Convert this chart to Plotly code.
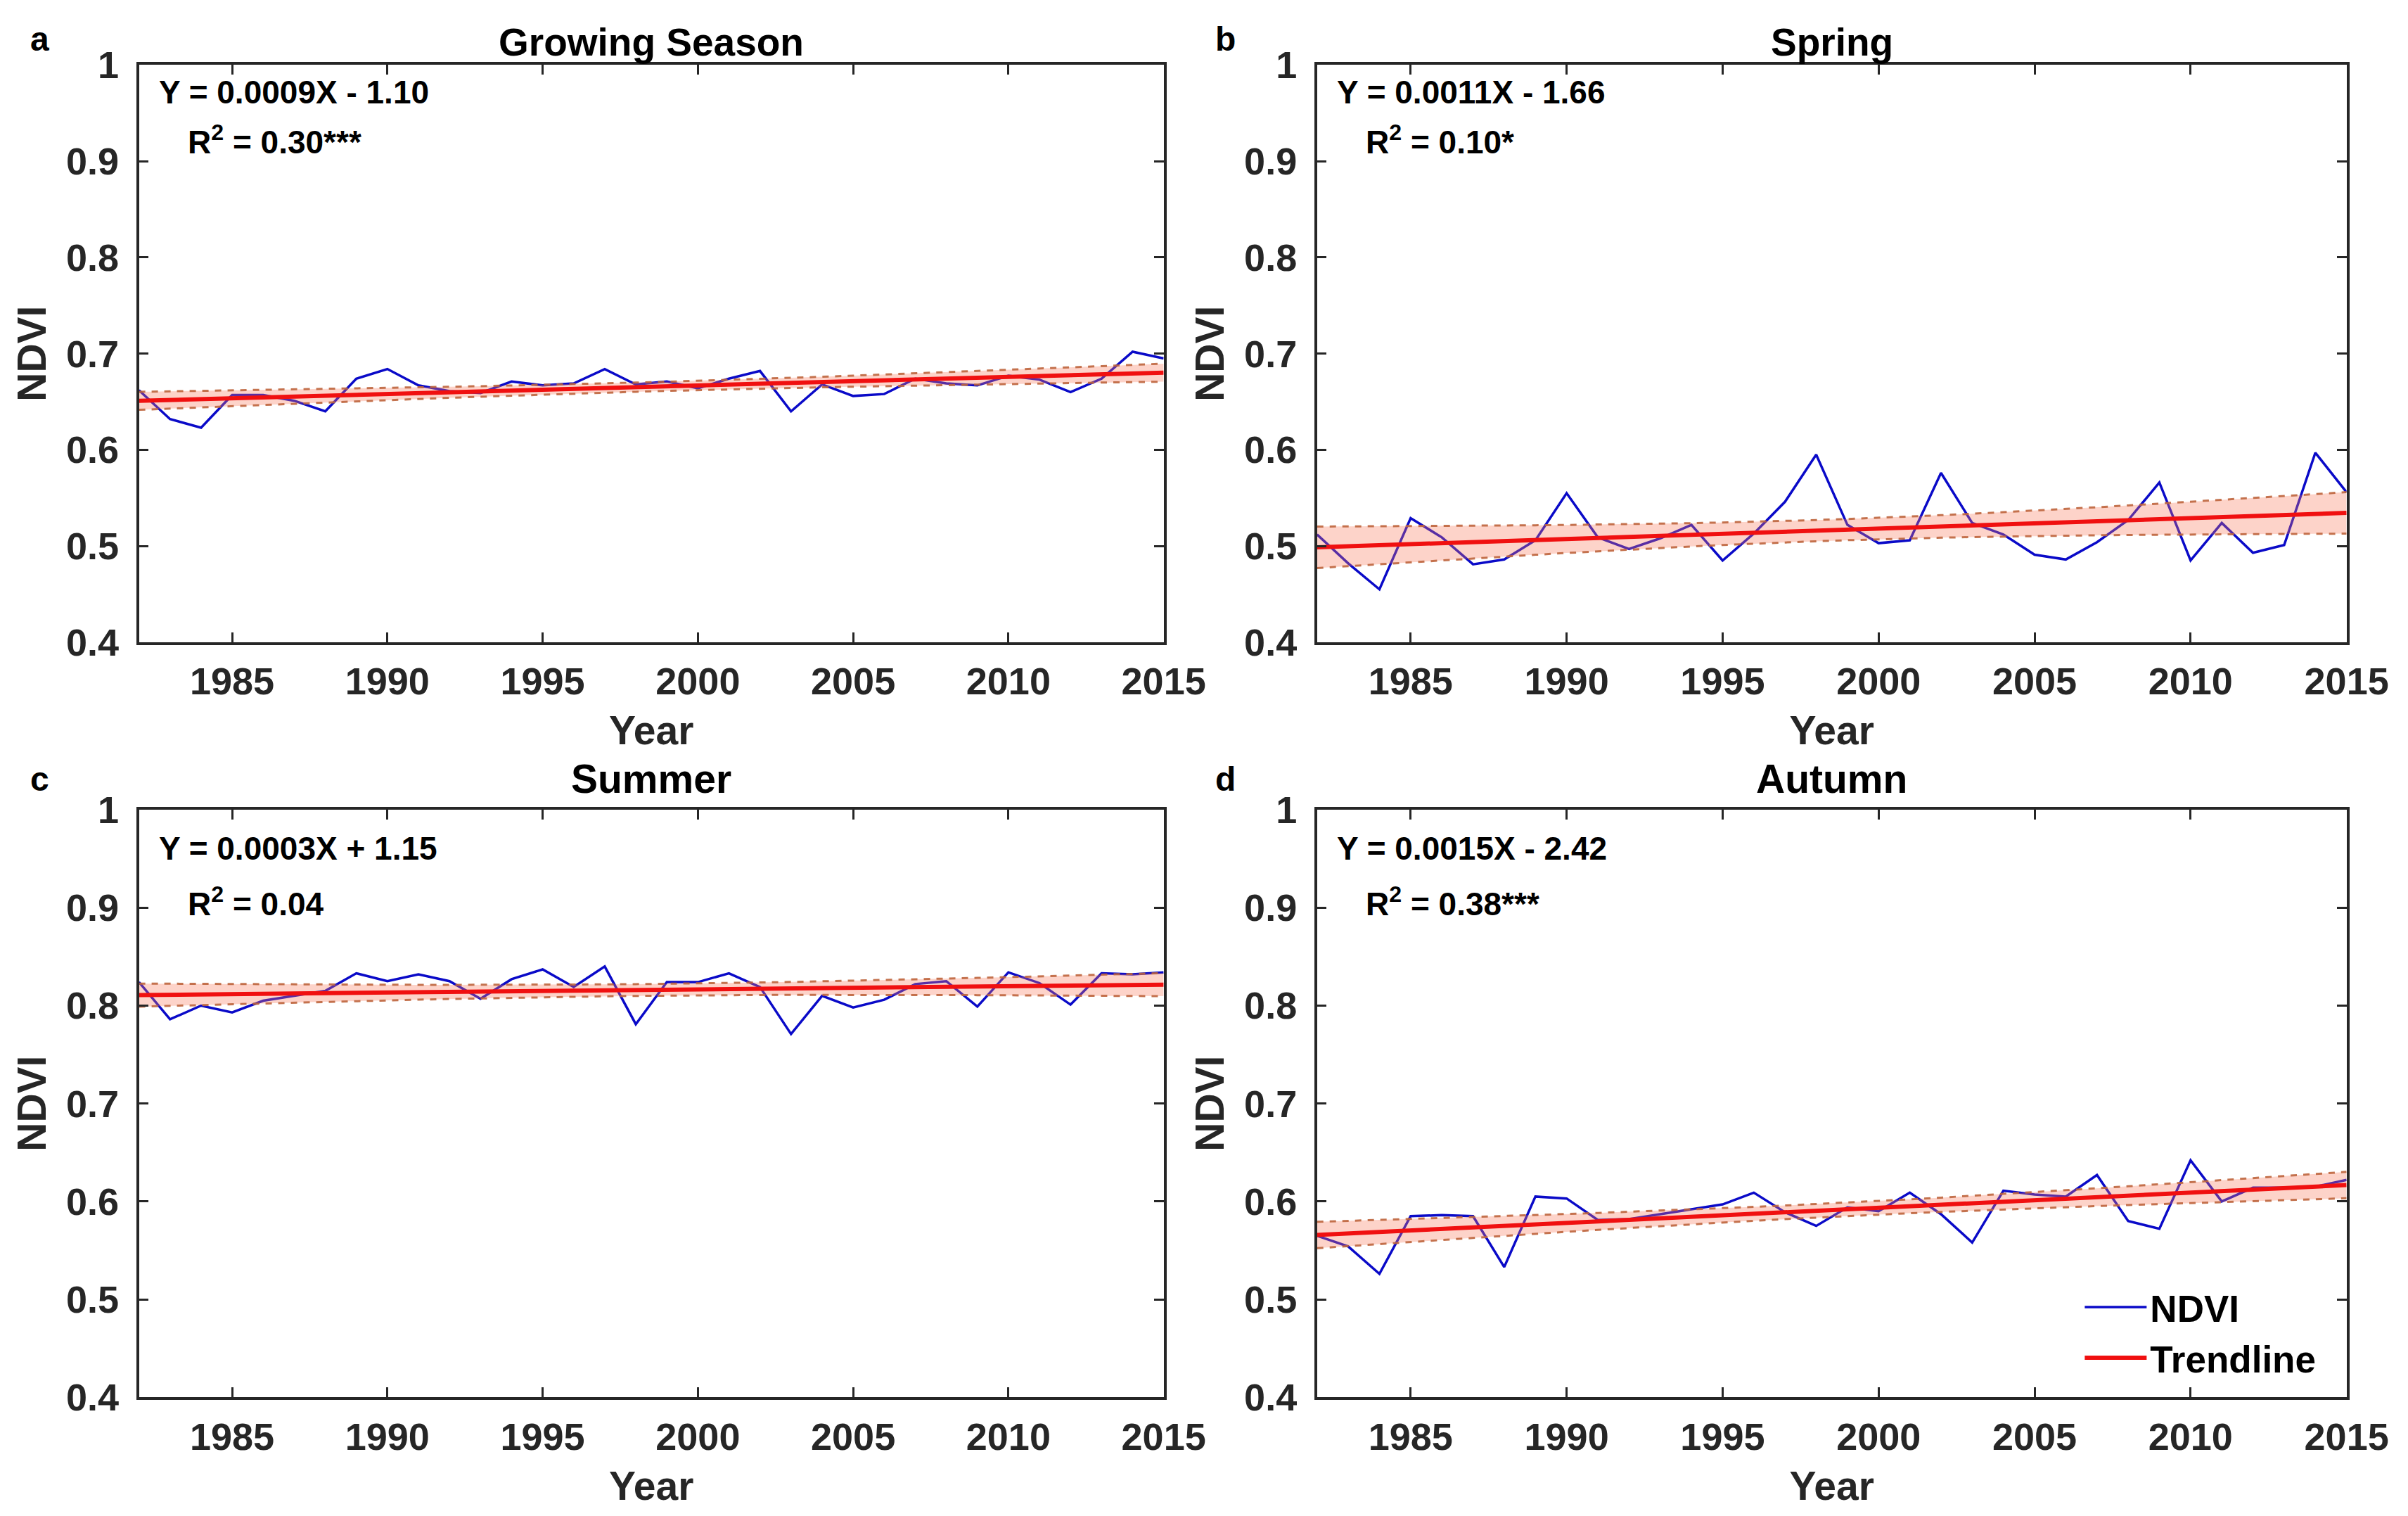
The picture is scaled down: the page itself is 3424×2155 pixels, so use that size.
import numpy as np
import plotly.graph_objects as go

years = list(range(1982, 2016))

ndvi_growing = [0.662, 0.632, 0.623, 0.657, 0.657, 0.651, 0.640, 0.674, 0.684, 0.667,
                0.661, 0.659, 0.671, 0.667, 0.669, 0.684, 0.668, 0.671, 0.664, 0.674,
                0.682, 0.640, 0.668, 0.656, 0.658, 0.674, 0.669, 0.667, 0.677, 0.673,
                0.660, 0.674, 0.702, 0.695]
ndvi_spring = [0.512, 0.482, 0.455, 0.529, 0.509, 0.481, 0.486, 0.506, 0.555, 0.509,
               0.497, 0.508, 0.522, 0.485, 0.513, 0.546, 0.595, 0.522, 0.503, 0.506,
               0.576, 0.524, 0.512, 0.491, 0.486, 0.504, 0.527, 0.566, 0.485, 0.524,
               0.493, 0.501, 0.597, 0.556]
ndvi_summer = [0.824, 0.786, 0.800, 0.793, 0.805, 0.810, 0.815, 0.833, 0.825, 0.832,
               0.825, 0.807, 0.827, 0.837, 0.819, 0.840, 0.781, 0.824, 0.824, 0.833,
               0.819, 0.771, 0.810, 0.798, 0.806, 0.822, 0.825, 0.799, 0.834, 0.823,
               0.801, 0.833, 0.832, 0.834]
ndvi_autumn = [0.565, 0.554, 0.526, 0.585, 0.586, 0.585, 0.533, 0.605, 0.603, 0.581,
               0.582, 0.587, 0.592, 0.597, 0.609, 0.589, 0.575, 0.594, 0.590, 0.609,
               0.587, 0.558, 0.611, 0.607, 0.605, 0.627, 0.580, 0.572, 0.642, 0.600,
               0.614, 0.614, 0.615, 0.622]

panel_letters = ["a", "b", "c", "d"]
panel_titles = ["Growing Season", "Spring", "Summer", "Autumn"]
equations = ["Y = 0.0009X - 1.10", "Y = 0.0011X - 1.66", "Y = 0.0003X + 1.15", "Y = 0.0015X - 2.42"]
r2_texts = ["R<sup>2</sup> = 0.30***", "R<sup>2</sup> = 0.10*", "R<sup>2</sup> = 0.04", "R<sup>2</sup> = 0.38***"]

x_ticks = [1985, 1990, 1995, 2000, 2005, 2010, 2015]
y_ticks = [0.4, 0.5, 0.6, 0.7, 0.8, 0.9, 1.0]
y_tick_labels = ["0.4", "0.5", "0.6", "0.7", "0.8", "0.9", "1"]

series = [ndvi_growing, ndvi_spring, ndvi_summer, ndvi_autumn]

W, H = 3424, 2155
FONT = "Liberation Sans"
AX = "#262626"

# axis domains (paper fractions)
TOP = 56
x_doms = [[193 / W, 1676 / W], [1898 / W, 3388 / W]]
y_doms = [[1 - 900 / H, 1 - TOP / H], [1 - 2004 / H, 1 - 1145 / H]]

fig = go.Figure()

x = np.array(years, dtype=float)
for i, vals in enumerate(series):
    y = np.array(vals)
    n = len(x)
    b, a = np.polyfit(x, y, 1)
    fit = a + b * x
    resid = y - fit
    s = np.sqrt(np.sum(resid ** 2) / (n - 2))
    sxx = np.sum((x - x.mean()) ** 2)
    se = s * np.sqrt(1.0 / n + (x - x.mean()) ** 2 / sxx)
    t = 2.037
    lo = fit - t * se
    hi = fit + t * se
    xa = "x" if i == 0 else f"x{i+1}"
    ya = "y" if i == 0 else f"y{i+1}"
    leg = (i == 3)
    fig.add_trace(go.Scatter(x=years, y=vals, mode="lines", name="NDVI",
                             line=dict(color="#0a0ac8", width=3.5),
                             xaxis=xa, yaxis=ya, showlegend=leg, legendrank=1))
    fig.add_trace(go.Scatter(x=list(x) + list(x[::-1]), y=list(hi) + list(lo[::-1]),
                             fill="toself", fillcolor="rgba(250,120,90,0.33)",
                             line=dict(width=0), mode="lines", hoverinfo="skip",
                             xaxis=xa, yaxis=ya, showlegend=False))
    for band in (lo, hi):
        fig.add_trace(go.Scatter(x=years, y=list(band), mode="lines",
                                 line=dict(color="rgba(190,100,60,0.9)", width=3, dash="9px,9px"),
                                 xaxis=xa, yaxis=ya, showlegend=False, hoverinfo="skip"))
    fig.add_trace(go.Scatter(x=years, y=list(fit), mode="lines", name="Trendline",
                             line=dict(color="#f01010", width=6),
                             xaxis=xa, yaxis=ya, showlegend=leg, legendrank=2))

layout = dict(width=W, height=H, margin=dict(l=0, r=0, t=0, b=0),
              paper_bgcolor="white", plot_bgcolor="white",
              font=dict(family=FONT, color=AX))

annotations = []
for i in range(4):
    r, c = divmod(i, 2)
    xk = "xaxis" if i == 0 else f"xaxis{i+1}"
    yk = "yaxis" if i == 0 else f"yaxis{i+1}"
    xa = "x" if i == 0 else f"x{i+1}"
    ya = "y" if i == 0 else f"y{i+1}"
    layout[xk] = dict(domain=x_doms[c], anchor=ya, range=[1982, 2015], tickvals=x_ticks,
                      ticks="inside", ticklen=14, tickwidth=3, tickcolor=AX,
                      showline=True, linewidth=3.5, linecolor=AX, mirror="ticks",
                      showgrid=False, zeroline=False, ticklabelstandoff=6,
                      tickfont=dict(family=FONT, size=54, color=AX, weight="bold"),
                      title=dict(text="Year", standoff=22,
                                 font=dict(family=FONT, size=57, color=AX, weight="bold")))
    layout[yk] = dict(domain=y_doms[r], anchor=xa, range=[0.4, 1.0], tickvals=y_ticks,
                      ticktext=y_tick_labels,
                      ticks="inside", ticklen=14, tickwidth=3, tickcolor=AX,
                      showline=True, linewidth=3.5, linecolor=AX, mirror="ticks",
                      showgrid=False, zeroline=False, ticklabelstandoff=14,
                      tickfont=dict(family=FONT, size=54, color=AX, weight="bold"),
                      title=dict(text="NDVI", standoff=11,
                                 font=dict(family=FONT, size=57, color=AX, weight="bold")))
    # title and panel letter
    if r == 0:
        ty, tanchor, tshift, tsize = 1.0, "top", 11, 55
    else:
        ty, tanchor, tshift, tsize = 1 - 1100 / H, "middle", 0, 57
    annotations.append(dict(text=panel_titles[i], xref="paper", yref="paper",
                            x=sum(x_doms[c]) / 2, y=ty, xanchor="center", yanchor=tanchor,
                            yshift=tshift, showarrow=False,
                            font=dict(family=FONT, size=tsize, color="black", weight="bold")))
    lx = 49 / W if c == 0 else 1765 / W
    annotations.append(dict(text=panel_letters[i], xref="paper", yref="paper",
                            x=lx, y=ty, xanchor="center", yanchor=tanchor, yshift=tshift,
                            showarrow=False,
                            font=dict(family=FONT, size=48, color="black", weight="bold")))
    # equation and R^2 (positions in pixels below the top of the plot area)
    if r == 0:
        top_px, h_px, eq_px, r2_px = TOP, 900 - TOP, 96, 166
    else:
        top_px, h_px, eq_px, r2_px = 1145, 2004 - 1145, 1201, 1280
    annotations.append(dict(text=equations[i], xref=f"{xa} domain", yref=f"{ya} domain",
                            x=0.018, y=1 - (eq_px - top_px) / h_px, xanchor="left",
                            yanchor="middle", showarrow=False,
                            font=dict(family=FONT, size=46, color="black", weight="bold")))
    annotations.append(dict(text=r2_texts[i], xref=f"{xa} domain", yref=f"{ya} domain",
                            x=0.046, y=1 - (r2_px - top_px) / h_px, xanchor="left",
                            yanchor="middle", showarrow=False,
                            font=dict(family=FONT, size=46, color="black", weight="bold")))

layout["annotations"] = annotations
layout["legend"] = dict(x=3004 / W, y=1 - 1830 / H, xanchor="left", yanchor="top",
                        bgcolor="rgba(0,0,0,0)", itemwidth=88, tracegroupgap=0,
                        font=dict(family=FONT, size=53, color="black", weight="bold"))
fig.update_layout(**layout)

fig.write_html("out.html")
